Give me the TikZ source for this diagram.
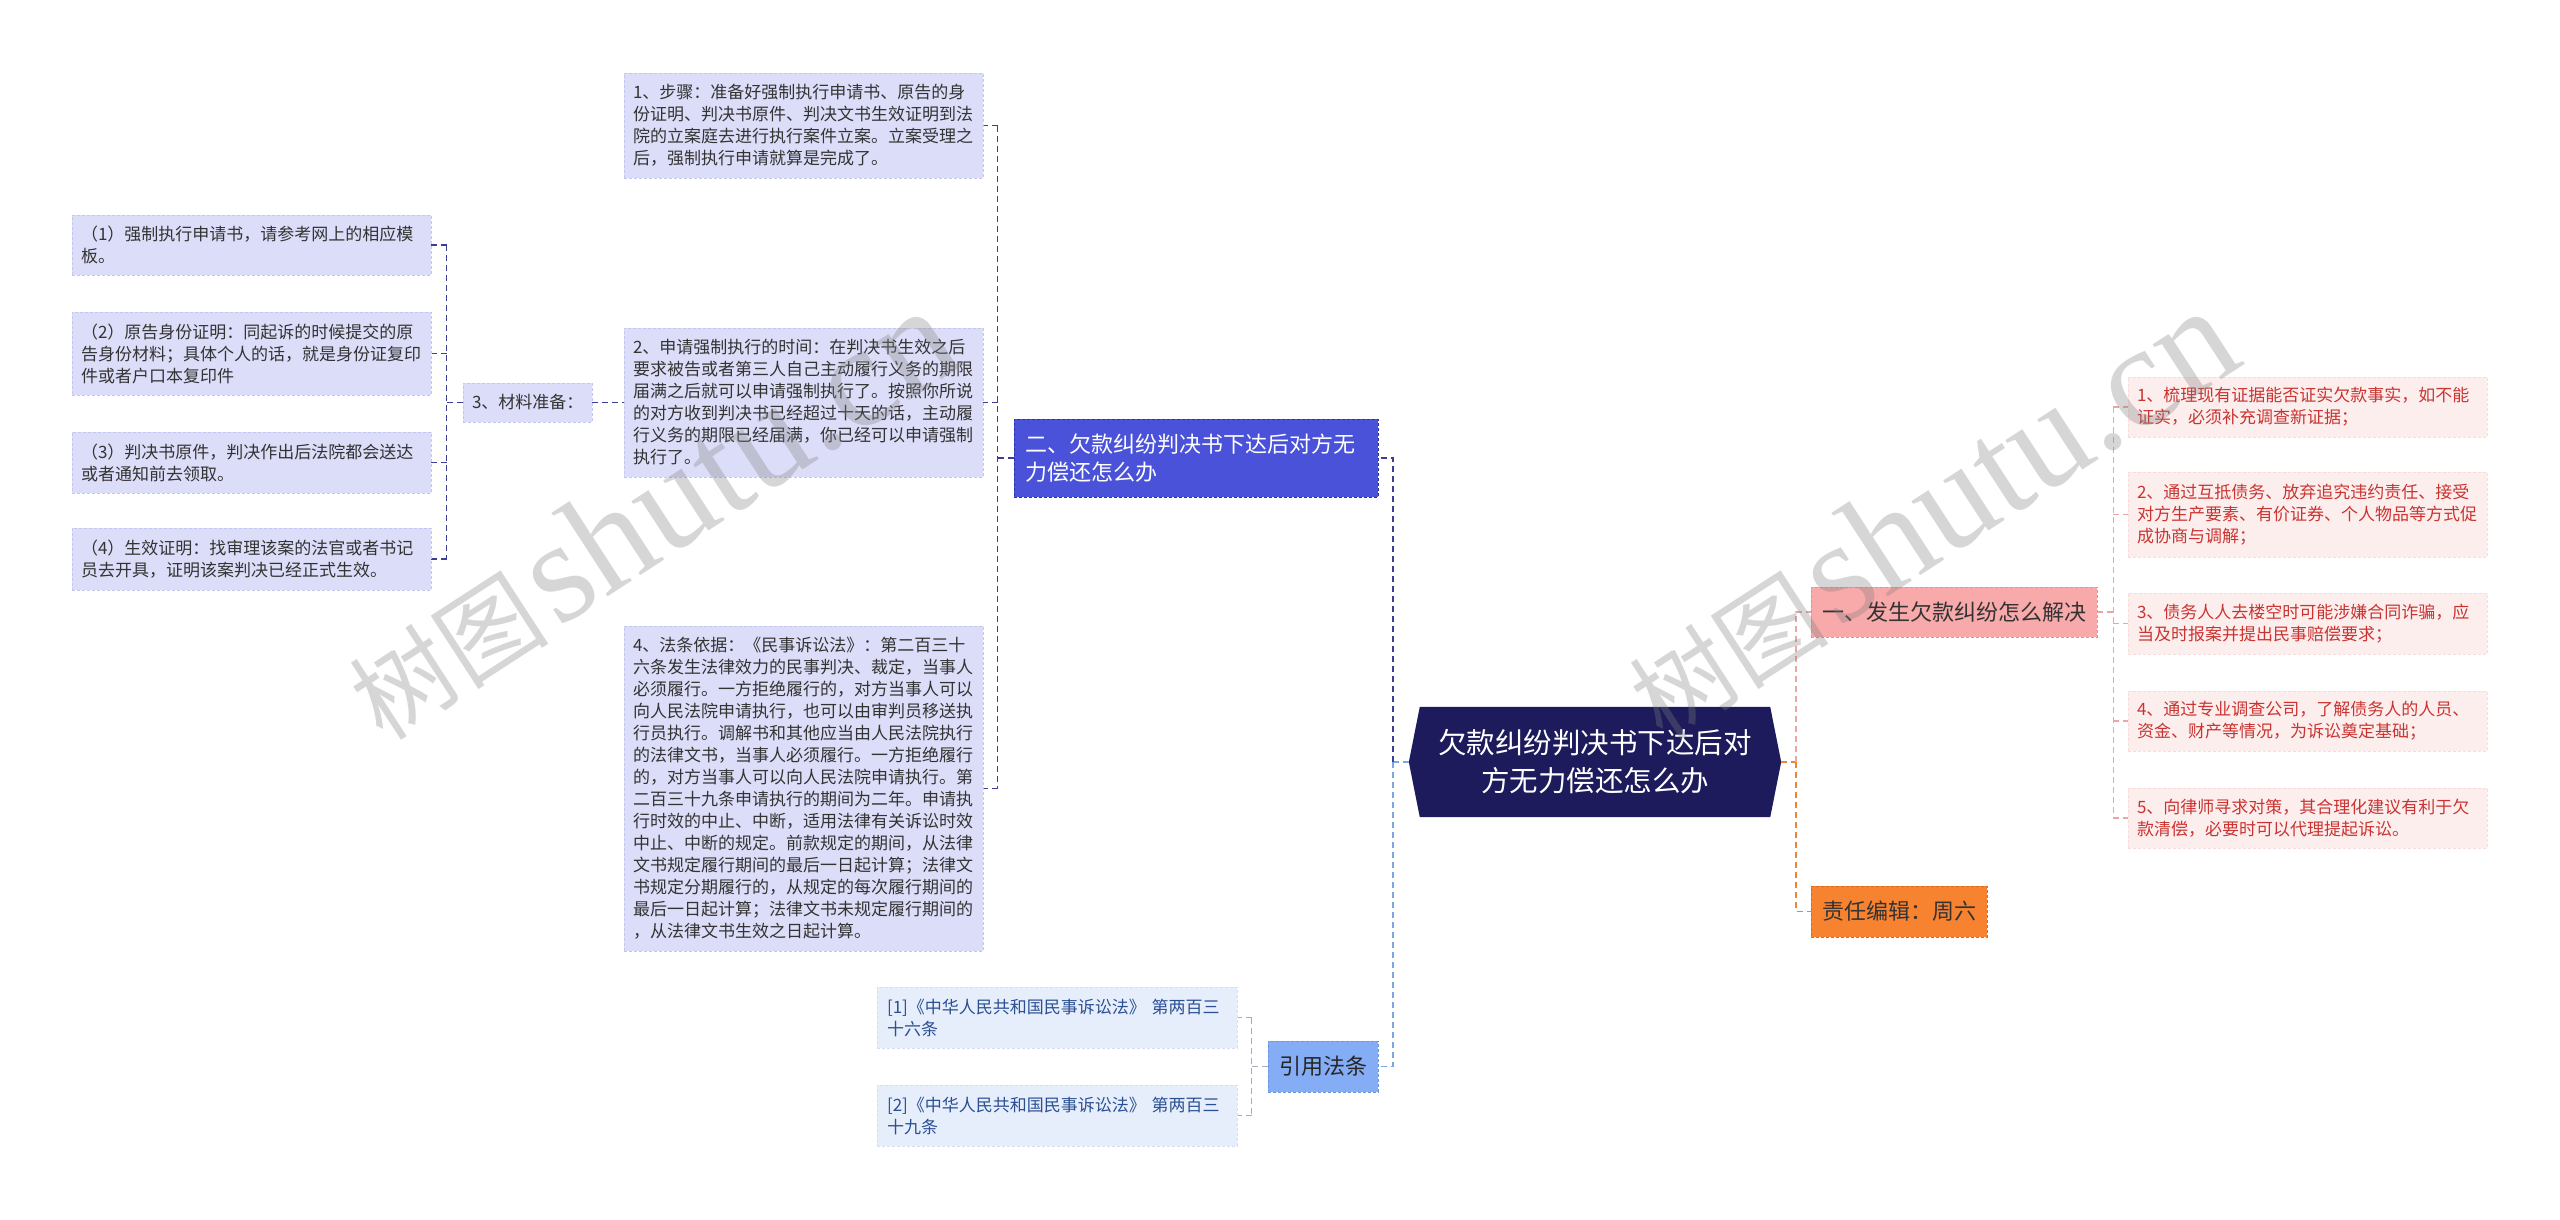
\documentclass[tikz,border=0pt]{standalone}
\usepackage{fontspec}
\setmainfont{Noto Sans CJK SC}
\newfontfamily\wmlatin{Liberation Serif}
\usetikzlibrary{backgrounds}
\newcommand\fsz[2]{\fontsize{#1}{#2}\selectfont}
\definecolor{lavfill}{HTML}{DCDDF8}
\definecolor{lavdraw}{HTML}{C3C6EF}
\definecolor{navyline}{HTML}{3B3E94}
\definecolor{rootfill}{HTML}{1D1B5B}
\definecolor{btwofill}{HTML}{4A52D9}
\definecolor{btwodraw}{HTML}{2D33A6}
\definecolor{yfill}{HTML}{84ADF5}
\definecolor{ydraw}{HTML}{6C95E0}
\definecolor{ltblue}{HTML}{7CA6E3}
\definecolor{cfill}{HTML}{E6EEFC}
\definecolor{cdraw}{HTML}{D3DFF5}
\definecolor{ctext}{HTML}{2B4F93}
\definecolor{cline}{HTML}{A4AEBE}
\definecolor{bonefill}{HTML}{F8A9A9}
\definecolor{bonedraw}{HTML}{E88F8F}
\definecolor{pinkline}{HTML}{EBA5A5}
\definecolor{rfill}{HTML}{FDEEEE}
\definecolor{rdraw}{HTML}{F8DCDC}
\definecolor{rtext}{HTML}{C93431}
\definecolor{efill}{HTML}{F7822F}
\definecolor{edraw}{HTML}{D8691E}
\definecolor{orline}{HTML}{EE8434}
\definecolor{txt}{HTML}{333333}
\begin{document}
\begin{tikzpicture}[x=1pt,y=-1pt,
  box/.style={rectangle, inner xsep=9pt, inner ysep=0pt, align=left,
    dash pattern=on 3pt off 2pt, line width=0.8pt},
  lv/.style={box, fill=lavfill, draw=lavdraw, text=txt, font=\fsz{17}{22}},
  rl/.style={box, fill=rfill, draw=rdraw, text=rtext, font=\fsz{17}{22},
    minimum width=359pt, text width=341pt},
  cl/.style={box, inner xsep=10pt, fill=cfill, draw=cdraw, text=ctext, font=\fsz{17}{22},
    minimum width=360pt, text width=340pt},
  mainb/.style={box, inner xsep=11pt, font=\fsz{22}{28}},
  cn/.style={line width=1.5pt, dash pattern=on 6pt off 4pt},
  wm/.style={text=black!50, opacity=0.32, inner sep=0pt}]
\useasboundingbox (0,0) rectangle (2560,1219);

% ---------- nodes ----------
\node[font=\fsz{28.5}{38}, text=white, align=center, minimum width=372pt,
  minimum height=110pt, inner sep=0pt] (root) at (1595,762)
  {欠款纠纷判决书下达后对\\方无力偿还怎么办};

\node[mainb, fill=bonefill, draw=bonedraw, text=txt, minimum width=286pt,
  minimum height=50pt] (B1) at (1954,612) {一、发生欠款纠纷怎么解决};
\node[mainb, fill=efill, draw=edraw, text=txt, minimum width=176pt,
  minimum height=51pt] (E) at (1899,911.5) {责任编辑：周六};

\node[rl, minimum height=60pt] (R1) at (2307.5,407)
  {1、梳理现有证据能否证实欠款事实，如不能\\证实，必须补充调查新证据；};
\node[rl, minimum height=85pt] (R2) at (2307.5,514.5)
  {2、通过互抵债务、放弃追究违约责任、接受\\对方生产要素、有价证券、个人物品等方式促\\成协商与调解；};
\node[rl, minimum height=61pt] (R3) at (2307.5,623.5)
  {3、债务人人去楼空时可能涉嫌合同诈骗，应\\当及时报案并提出民事赔偿要求；};
\node[rl, minimum height=60pt] (R4) at (2307.5,721)
  {4、通过专业调查公司，了解债务人的人员、\\资金、财产等情况，为诉讼奠定基础；};
\node[rl, minimum height=60pt] (R5) at (2307.5,818)
  {5、向律师寻求对策，其合理化建议有利于欠\\款清偿，必要时可以代理提起诉讼。};

\node[mainb, fill=btwofill, draw=btwodraw, text=white, minimum width=364pt,
  text width=342pt, minimum height=78pt] (B2) at (1196,458)
  {二、欠款纠纷判决书下达后对方无\\力偿还怎么办};
\node[mainb, fill=yfill, draw=ydraw, text=black!85, minimum width=110pt,
  minimum height=51pt] (Y) at (1323,1066.5) {引用法条};

\node[cl, minimum height=61pt] (C1) at (1057,1017.5)
  {[1]《中华人民共和国民事诉讼法》~第两百三\\十六条};
\node[cl, minimum height=61pt] (C2) at (1057,1115.5)
  {[2]《中华人民共和国民事诉讼法》~第两百三\\十九条};

\node[lv, minimum width=359pt, text width=341pt, minimum height=105pt] (L1) at (803.5,125.5)
  {1、步骤：准备好强制执行申请书、原告的身\\份证明、判决书原件、判决文书生效证明到法\\院的立案庭去进行执行案件立案。立案受理之\\后，强制执行申请就算是完成了。};
\node[lv, minimum width=359pt, text width=341pt, minimum height=149pt] (L2) at (803.5,402.5)
  {2、申请强制执行的时间：在判决书生效之后\\要求被告或者第三人自己主动履行义务的期限\\届满之后就可以申请强制执行了。按照你所说\\的对方收到判决书已经超过十天的话，主动履\\行义务的期限已经届满，你已经可以申请强制\\执行了。};
\node[lv, minimum width=129pt, text width=111pt, minimum height=39pt] (L3) at (527.5,402.5)
  {3、材料准备：};
\node[lv, minimum width=359pt, text width=341pt, minimum height=325pt] (L4) at (803.5,788.5)
  {4、法条依据：《民事诉讼法》：第二百三十\\六条发生法律效力的民事判决、裁定，当事人\\必须履行。一方拒绝履行的，对方当事人可以\\向人民法院申请执行，也可以由审判员移送执\\行员执行。调解书和其他应当由人民法院执行\\的法律文书，当事人必须履行。一方拒绝履行\\的，对方当事人可以向人民法院申请执行。第\\二百三十九条申请执行的期间为二年。申请执\\行时效的中止、中断，适用法律有关诉讼时效\\中止、中断的规定。前款规定的期间，从法律\\文书规定履行期间的最后一日起计算；法律文\\书规定分期履行的，从规定的每次履行期间的\\最后一日起计算；法律文书未规定履行期间的\\，从法律文书生效之日起计算。};

\node[lv, minimum width=359pt, text width=341pt, minimum height=60pt] (S1) at (251.5,245)
  {（1）强制执行申请书，请参考网上的相应模\\板。};
\node[lv, minimum width=359pt, text width=341pt, minimum height=83pt] (S2) at (251.5,353.5)
  {（2）原告身份证明：同起诉的时候提交的原\\告身份材料；具体个人的话，就是身份证复印\\件或者户口本复印件};
\node[lv, minimum width=359pt, text width=341pt, minimum height=61pt] (S3) at (251.5,462.5)
  {（3）判决书原件，判决作出后法院都会送达\\或者通知前去领取。};
\node[lv, minimum width=359pt, text width=341pt, minimum height=62pt] (S4) at (251.5,559)
  {（4）生效证明：找审理该案的法官或者书记\\员去开具，证明该案判决已经正式生效。};

% ---------- background: page, root shape, connectors ----------
\begin{scope}[on background layer]
  \fill[white] (0,0) rectangle (2560,1219);
  \fill[rootfill] (root.west) -- ([xshift=11pt]root.north west) -- ([xshift=-11pt]root.north east)
    -- (root.east) -- ([xshift=-11pt]root.south east) -- ([xshift=11pt]root.south west) -- cycle;

  % right of root
  \coordinate (rj) at ([xshift=15pt]root.east);
  \draw[cn, orline] (root.east) -- (rj);
  \draw[cn, pinkline] (rj) -- (rj |- B1.west) -- (B1.west);
  \draw[cn, orline] (rj) -- (rj |- E.west) -- (E.west);

  % children of B1
  \coordinate (b1j) at ([xshift=16pt]B1.east);
  \draw[cn, pinkline] (B1.east) -- (b1j);
  \draw[cn, pinkline] (b1j |- R1.west) -- (b1j |- R5.west);
  \foreach \n in {R1,R2,R3,R4,R5} {\draw[cn, pinkline] (b1j |- \n.west) -- (\n.west);}

  % left of root
  \coordinate (lj) at ([xshift=-16pt]root.west);
  \draw[cn, ltblue] (root.west) -- (lj);
  \draw[cn, navyline] (lj) -- (lj |- B2.east) -- (B2.east);
  \draw[cn, ltblue] (lj) -- (lj |- Y.east) -- (Y.east);

  % children of B2
  \coordinate (b2j) at ([xshift=-16pt]B2.west);
  \draw[cn, navyline] (B2.west) -- (b2j);
  \draw[cn, navyline] (b2j |- L1.east) -- (b2j |- L4.east);
  \foreach \n in {L1,L2,L3,L4} {\draw[cn, navyline] (b2j |- \n.east) -- (\n.east);}

  % children of L3
  \coordinate (l3j) at ([xshift=-16pt]L3.west);
  \draw[cn, navyline] (L3.west) -- (l3j);
  \draw[cn, navyline] (l3j |- S1.east) -- (l3j |- S4.east);
  \foreach \n in {S1,S2,S3,S4} {\draw[cn, navyline] (l3j |- \n.east) -- (\n.east);}

  % children of Y
  \coordinate (yj) at ([xshift=-16pt]Y.west);
  \draw[cn, cline] (Y.west) -- (yj);
  \draw[cn, cline] (yj |- C1.east) -- (yj |- C2.east);
  \foreach \n in {C1,C2} {\draw[cn, cline] (yj |- \n.east) -- (\n.east);}
\end{scope}

% ---------- watermarks ----------
\node[wm, rotate=33] (wmA) at (650,514)
  {{\fsz{100}{100}树图}\hspace{8pt}{\wmlatin\fsz{145}{145}shutu.cn}};
\node[wm, rotate=33] (wmB) at (1930,514)
  {{\fsz{100}{100}树图}\hspace{8pt}{\wmlatin\fsz{145}{145}shutu.cn}};
\end{tikzpicture}
\end{document}
